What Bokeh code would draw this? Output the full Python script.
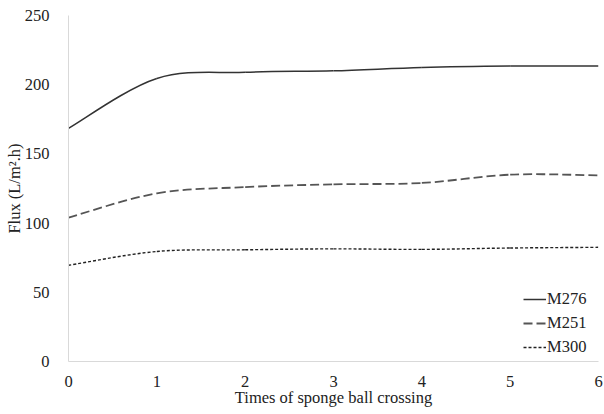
from bokeh.plotting import figure
from bokeh.models import Range1d, FixedTicker, ColumnDataSource, Legend, LegendItem
from bokeh.embed import file_html
from bokeh.resources import INLINE

# ---- data ----
x_vals = [0, 1, 2, 3, 4, 5, 6]
m276 = [168.5, 204.5, 209.0, 210.0, 212.5, 213.5, 213.5]
m251 = [104.0, 121.5, 126.0, 128.0, 129.0, 135.0, 134.5]
m300 = [69.5, 79.5, 80.7, 81.4, 81.0, 82.0, 82.5]
series_names = ["M276", "M251", "M300"]
y_ticks = [0, 50, 100, 150, 200, 250]
x_ticks = [0, 1, 2, 3, 4, 5, 6]
x_title = "Times of sponge ball crossing"
y_title = "Flux (L/m².h)"

FONT = "Liberation Serif"
FS = "16.5px"
TXT = "#222222"


def bezier_source(xs, ys):
    """Smoothed-line segments (Catmull-Rom style control points)."""
    n = len(xs)
    d = dict(x0=[], y0=[], x1=[], y1=[], cx0=[], cy0=[], cx1=[], cy1=[])
    for i in range(n - 1):
        im = max(i - 1, 0)
        ip2 = min(i + 2, n - 1)
        d["x0"].append(xs[i]); d["y0"].append(ys[i])
        d["x1"].append(xs[i + 1]); d["y1"].append(ys[i + 1])
        d["cx0"].append(xs[i] + (xs[i + 1] - xs[im]) / 6)
        d["cy0"].append(ys[i] + (ys[i + 1] - ys[im]) / 6)
        d["cx1"].append(xs[i + 1] - (xs[ip2] - xs[i]) / 6)
        d["cy1"].append(ys[i + 1] - (ys[ip2] - ys[i]) / 6)
    return ColumnDataSource(d)


p = figure(width=604, height=414, output_backend="svg", toolbar_location=None,
           x_range=Range1d(0, 6), y_range=Range1d(0, 250),
           min_border_left=68, min_border_right=6, min_border_top=15, min_border_bottom=53)
p.outline_line_color = None
p.xgrid.visible = False
p.ygrid.visible = False
p.background_fill_color = "white"
p.border_fill_color = "white"

styles = [
    dict(line_color="#333333", line_width=1.5, line_dash="solid"),
    dict(line_color="#555555", line_width=1.8, line_dash="9 4"),
    dict(line_color="#222222", line_width=1.4, line_dash="3 2"),
]

items = []
for name, ys, st in zip(series_names, [m276, m251, m300], styles):
    src = bezier_source(x_vals, ys)
    r = p.bezier(x0="x0", y0="y0", x1="x1", y1="y1", cx0="cx0", cy0="cy0",
                 cx1="cx1", cy1="cy1", source=src, **st)
    items.append(LegendItem(label=name, renderers=[r], index=0))

legend = Legend(items=items, location=(455, 2), padding=0, margin=0, spacing=0,
                glyph_width=23, glyph_height=24, label_height=24, label_standoff=1,
                label_text_font=FONT, label_text_font_size=FS,
                label_text_color=TXT,
                border_line_color=None, background_fill_alpha=0)
p.add_layout(legend, "center")

for ax in (p.xaxis[0], p.yaxis[0]):
    ax.axis_line_color = "#d9d9d9"
    ax.axis_line_width = 1
    ax.major_tick_line_color = None
    ax.minor_tick_line_color = None
    ax.major_label_text_font = FONT
    ax.major_label_text_font_size = FS
    ax.major_label_text_color = TXT
    ax.axis_label_text_font = FONT
    ax.axis_label_text_font_size = FS
    ax.axis_label_text_font_style = "normal"
    ax.axis_label_text_color = TXT

p.xaxis.ticker = FixedTicker(ticks=x_ticks)
p.yaxis.ticker = FixedTicker(ticks=y_ticks)
p.xaxis.major_label_standoff = 8
p.yaxis.major_label_standoff = 13
p.xaxis.axis_label = x_title
p.yaxis.axis_label = y_title
p.xaxis.axis_label_standoff = -2
p.yaxis.axis_label_standoff = -2

open("out.html", "w").write(file_html(p, INLINE))
